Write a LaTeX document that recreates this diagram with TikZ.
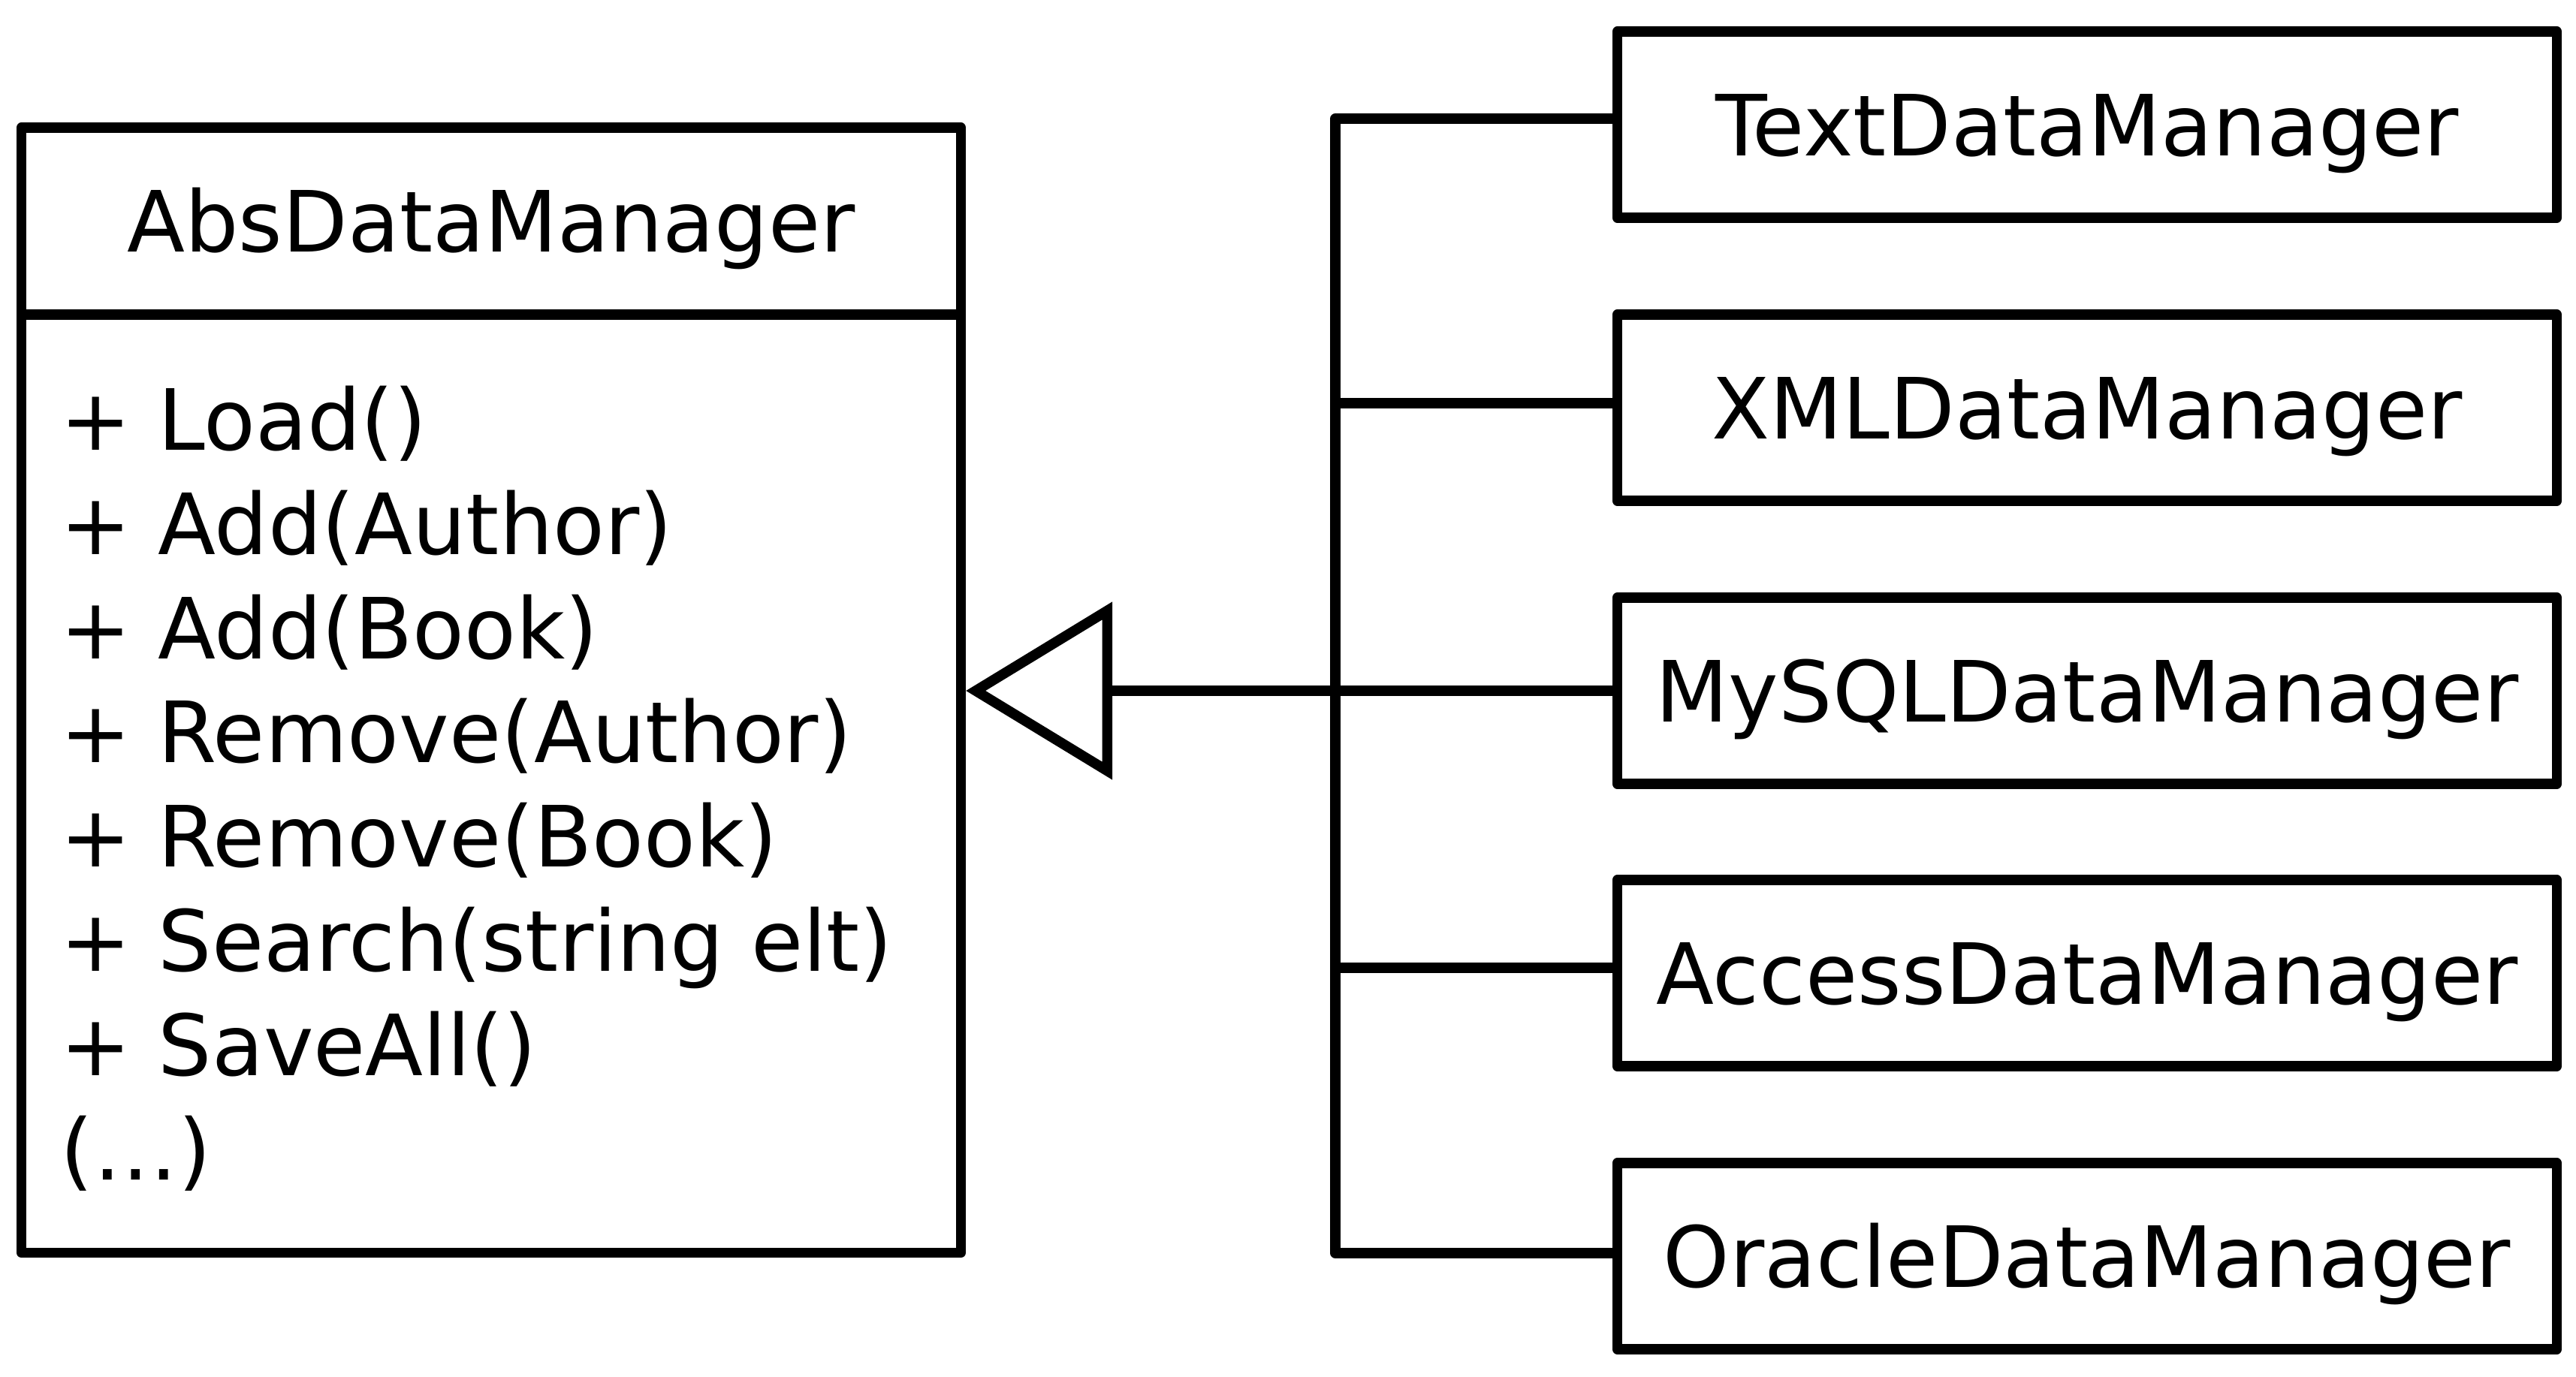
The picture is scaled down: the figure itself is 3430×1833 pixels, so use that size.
\documentclass[tikz,border=0pt]{standalone}
\usepackage{fontspec}
\setmainfont{DejaVu Sans}
\usetikzlibrary{arrows.meta}
\begin{document}
\begin{tikzpicture}[x=0.01cm,y=-0.01cm,
  txt/.style={font=\fontsize{32}{39.46}\selectfont},
  box/.style={draw, line width=0.135cm, line join=round, inner sep=0pt,
    minimum width=12.5cm, text height=0.82cm, text depth=0cm, txt},
  conn/.style={line width=0.135cm, line join=round},
]
\useasboundingbox (0,0) rectangle (3430,1833);
% abstract class
\node[box, minimum height=2.49cm] (head) at (654,294.5) {AbsDataManager};
\node[box, minimum height=12.49cm] (body) at (654,1043.5) {};
\node[txt, anchor=base west, align=left, inner sep=0pt] (methods) at (80,1571)
  {+ Load()\\+ Add(Author)\\+ Add(Book)\\+ Remove(Author)\\+ Remove(Book)\\+ Search(string elt)\\+ SaveAll()\\(…)};
% concrete classes
\node[box, minimum height=2.48cm] (textb)   at (2779,166)  {TextDataManager};
\node[box, minimum height=2.48cm] (xmlb)    at (2779,543)  {XMLDataManager};
\node[box, minimum height=2.48cm] (mysqlb)  at (2779,920)  {MySQLDataManager};
\node[box, minimum height=2.48cm] (accessb) at (2779,1296) {AccessDataManager};
\node[box, minimum height=2.48cm] (oracleb) at (2779,1673) {OracleDataManager};
% bus
\coordinate (b1) at (1778,158);
\coordinate (b2) at (1778,537);
\coordinate (b4) at (1778,1289);
\coordinate (b5) at (1778,1669);
\draw[conn] (b1 -| textb.west) -- (b1) -- (b5) -- (b5 -| oracleb.west);
\draw[conn] (b2) -- (b2 -| xmlb.west);
\draw[conn] (b4) -- (b4 -| accessb.west);
% generalization arrow
\draw[conn, -{Triangle[open, length=1.95cm, width=2.34cm]}] (mysqlb.west) -- (mysqlb.west -| body.east);
\end{tikzpicture}
\end{document}
